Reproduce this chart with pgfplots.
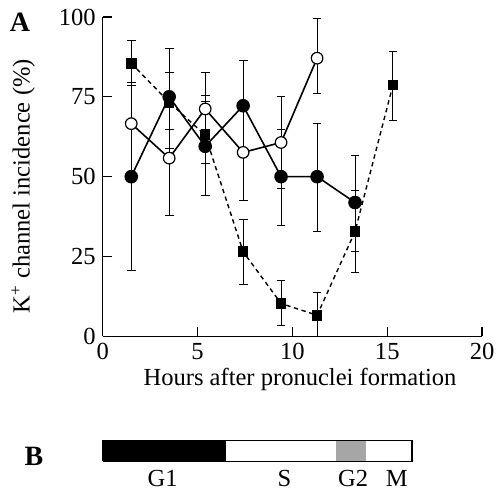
\documentclass[border=0pt]{standalone}
\usepackage{fontspec}
\setmainfont{Liberation Serif}
\usepackage{pgfplots}
\pgfplotsset{compat=1.18}

\begin{document}
\begin{tikzpicture}
\begin{axis}[
    at={(0,0)}, anchor=south west,
    width=190pt, height=160pt, scale only axis,
    xmin=0, xmax=20, ymin=0, ymax=100,
    axis x line*=bottom, axis y line*=left,
    xtick={0,5,10,15,20}, ytick={0,25,50,75,100},
    xticklabels={0,5,10,15,20}, yticklabels={0,25,50,75,100},
    tick align=inside, major tick length=4.5pt,
    tick style={line width=0.6pt, black},
    axis line style={line width=0.6pt},
    clip=false,
    font=\fontsize{12.3}{14}\selectfont,
    xlabel={Hours after pronuclei formation},
    ylabel={K\textsuperscript{+} channel incidence (\%)},
    xlabel style={at={(axis description cs:0.52,-0.134)}, anchor=center},
    ylabel style={at={(axis description cs:-0.21,0.47)}, anchor=center},
    errs/.style={error bars/y dir=both, error bars/y explicit,
        error bars/error mark=-,
        error bars/error bar style={line width=0.5pt, solid},
        error bars/error mark options={rotate=90, mark size=2.2pt, line width=0.5pt, solid}},
]
% squares, dashed
\addplot[black, line width=0.7pt, dash pattern=on 2.2pt off 1.8pt,
    mark=square*, mark size=2.3pt, mark options={solid}, errs]
    coordinates {
    (1.5,85.5) += (0,7.1) -= (0,7.0)
    (3.5,73.3) += (0,9.3) -= (0,8.4)
    (5.4,63.0) += (0,10.4) -= (0,8.8)
    (7.4,26.5) += (0,10.2) -= (0,10.2)
    (9.4,10.3) += (0,7.3) -= (0,6.9)
    (11.3,6.6) += (0,7.1) -= (0,6.6)
    (13.3,32.8) += (0,13.0) -= (0,12.8)
    (15.3,78.7) += (0,10.4) -= (0,11.0)
    };
% open circles: error bars (first point has none), then line and marks
\addplot[draw=none, mark=none, errs]
    coordinates {
    (3.5,55.8) += (0,18.0) -= (0,18.1)
    (5.4,71.2) += (0,11.4) -= (0,6.3)
    (7.4,57.6) += (0,14.6) -= (0,15.0)
    (9.4,60.7) += (0,14.3) -= (0,14.3)
    (11.3,87.1) += (0,12.3) -= (0,11.2)
    };
\addplot[black, line width=0.8pt, mark=*, mark size=2.9pt,
    mark options={fill=white, line width=0.6pt}]
    coordinates {(1.5,66.6) (3.5,55.8) (5.4,71.2) (7.4,57.6) (9.4,60.7) (11.3,87.1)};
% filled circles
\addplot[black, line width=0.8pt, mark=*, mark size=3pt, mark options={fill=black}, errs]
    coordinates {
    (1.5,50.0) += (0,29.5) -= (0,29.5)
    (3.5,75.0) += (0,15.2) -= (0,16.2)
    (5.4,59.5) += (0,15.8) -= (0,15.5)
    (7.4,72.2) += (0,14.1) -= (0,14.0)
    (9.4,50.0) += (0,14.7) -= (0,15.4)
    (11.3,50.0) += (0,16.7) -= (0,17.3)
    (13.3,41.9) += (0,14.6) -= (0,15.2)
    };
\end{axis}

\begin{axis}[
    at={(0,-62.5pt)}, anchor=south west,
    width=190pt, height=10.5pt, scale only axis,
    xmin=0, xmax=20, ymin=0, ymax=1,
    axis lines=none, clip=false,
    font=\fontsize{12.3}{14}\selectfont,
]
\addplot[fill=black, draw=none] coordinates {(0,1) (6.5,1)} \closedcycle;
\addplot[fill=black!35, draw=none] coordinates {(12.3,1) (13.9,1)} \closedcycle;
\addplot[draw=black, line width=0.6pt] coordinates {(0,0) (16.3,0) (16.3,1) (0,1) (0,0)};
\node at (axis cs:3.15,0) [yshift=-8.5pt] {G1};
\node at (axis cs:9.58,0) [yshift=-8.5pt] {S};
\node at (axis cs:13.2,0) [yshift=-8.5pt] {G2};
\node at (axis cs:15.5,0) [yshift=-8.5pt] {M};
\end{axis}

\node[font=\fontsize{14}{16}\selectfont\bfseries] at (-41.5pt,157.5pt) {A};
\node[font=\fontsize{14}{16}\selectfont\bfseries] at (-34.5pt,-60pt) {B};
\path[use as bounding box] (-51.5pt,-80pt) rectangle (199pt,168.5pt);
\end{tikzpicture}
\end{document}
